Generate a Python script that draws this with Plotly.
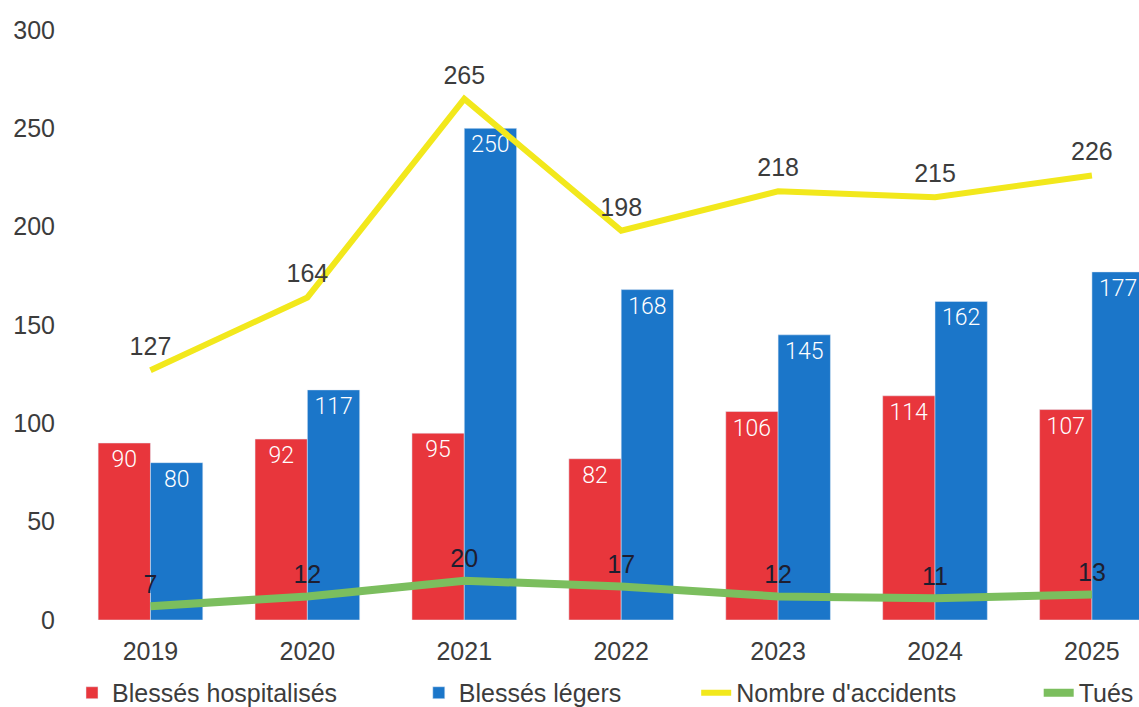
import plotly.graph_objects as go

years = ["2019", "2020", "2021", "2022", "2023", "2024", "2025"]
hospitalises = [90, 92, 95, 82, 106, 114, 107]
legers = [80, 117, 250, 168, 145, 162, 177]
accidents = [127, 164, 265, 198, 218, 215, 226]
tues = [7, 12, 20, 17, 12, 11, 13]

RED = "#E8363C"
BLUE = "#1B76C9"
YELLOW = "#F2E81C"
GREEN = "#7BBE5E"
TXT = "#3C3C3C"
FONT = "Liberation Sans"
BARFONT = dict(color="white", size=23, family="Roboto", weight=300)
CLEAR = "rgba(0,0,0,0)"

fig = go.Figure()
fig.add_trace(go.Bar(
    name="Blessés hospitalisés", x=years, y=hospitalises, marker_color=RED,
    text=hospitalises, textposition="inside", insidetextanchor="end",
    textangle=0, textfont=BARFONT, legend="legend", hoverinfo="x+y+name",
))
fig.add_trace(go.Bar(
    name="Blessés légers", x=years, y=legers, marker_color=BLUE,
    text=legers, textposition="inside", insidetextanchor="end",
    textangle=0, textfont=BARFONT, legend="legend2", hoverinfo="x+y+name",
))
fig.add_trace(go.Scatter(
    name="Nombre d'accidents", x=years, y=accidents, mode="lines",
    line=dict(color=YELLOW, width=6), legend="legend3",
))
fig.add_trace(go.Scatter(
    name="Tués", x=years, y=tues, mode="lines",
    line=dict(color=GREEN, width=8), legend="legend4",
))
# value labels for the two lines (transparent markers give the label offset)
fig.add_trace(go.Scatter(
    x=years, y=accidents, mode="markers+text", text=accidents,
    textposition="top center", marker=dict(size=12.5, color=CLEAR),
    textfont=dict(family=FONT, size=25, color=TXT),
    showlegend=False, hoverinfo="skip", cliponaxis=False,
))
fig.add_trace(go.Scatter(
    x=years, y=tues, mode="markers+text", text=tues,
    textposition="top center", marker=dict(size=9.5, color=CLEAR),
    textfont=dict(family=FONT, size=25, color="#1E1E30"),
    showlegend=False, hoverinfo="skip", cliponaxis=False,
))

LEGY = -0.1237
legfont = dict(family=FONT, size=25, color=TXT)
def leg(x):
    return dict(orientation="h", x=x, xanchor="left", y=LEGY, yanchor="middle",
                font=legfont, bgcolor=CLEAR)

fig.update_layout(
    width=1139, height=707,
    margin=dict(l=72, r=0, t=30, b=87, autoexpand=False),
    paper_bgcolor="white", plot_bgcolor="white",
    barmode="group", bargap=0.333, bargroupgap=0,
    font=dict(family=FONT, size=25, color=TXT),
    showlegend=True,
    legend=leg(0.0),
    legend2=leg(0.325),
    legend3=leg(0.585),
    legend4=leg(0.906),
    xaxis=dict(type="category", range=[-0.5, 6.3], showgrid=False, showline=False,
               ticks="", tickfont=dict(size=25, color=TXT), ticklabelstandoff=14,
               automargin=False),
    yaxis=dict(range=[0, 300], tickvals=[0, 50, 100, 150, 200, 250, 300],
               showgrid=False, zeroline=False, showline=False, ticks="",
               tickfont=dict(size=25, color=TXT), ticklabelstandoff=16,
               automargin=False),
)

fig.write_html("out.html", config={"displayModeBar": False},
               post_script="document.body.style.margin='0';")
